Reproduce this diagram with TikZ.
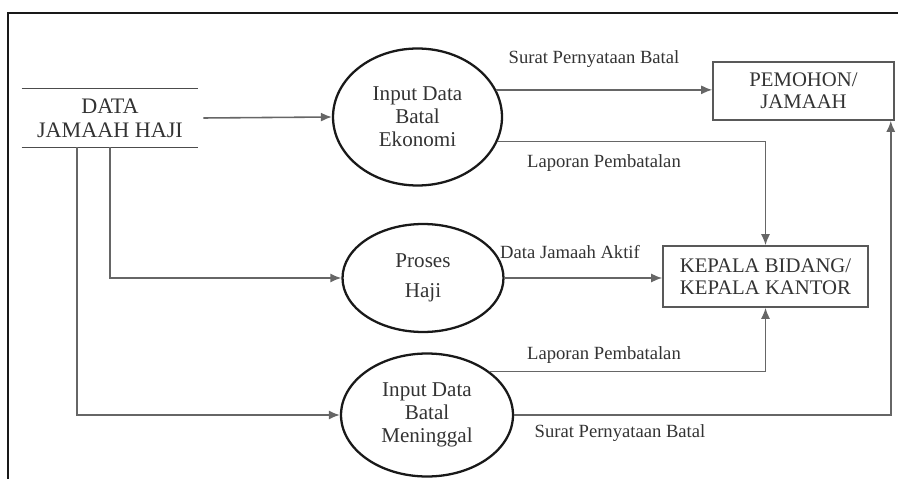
\documentclass[tikz,border=0pt]{standalone}
\usepackage{fontspec}
\setmainfont{Liberation Serif}
\usetikzlibrary{shapes.geometric,arrows.meta}
\tikzset{
  process/.style={ellipse, draw=black!90, line width=1.3pt, minimum width=3.38cm, minimum height=2.74cm, inner sep=0pt, align=center, text=black!80, font=\fontsize{12}{13}\selectfont},
  entity/.style={rectangle, draw=black!65, line width=0.9pt, inner sep=0pt, align=center, text=black!80, font=\fontsize{11.8}{12.5}\selectfont},
  store/.style={minimum width=3.52cm, minimum height=1.16cm, inner sep=0pt, align=center, text=black!80, font=\fontsize{12.6}{13.6}\selectfont},
  storeline/.style={draw=black!70, line width=0.9pt},
  flow/.style={draw=black!60, line width=0.9pt, -{Latex[length=2.2mm,width=1.8mm]}},
  flowlabel/.style={inner sep=0pt, text=black!80, font=\fontsize{10.6}{12}\selectfont},
  frame/.style={draw=black!90, line width=1.7pt}
}
\begin{document}
\begin{tikzpicture}[x=0.02cm, y=-0.02cm]
  \useasboundingbox (0,0) rectangle (898,479);
  \draw[frame] (8,479) -- (8,13) -- (898,13);

  \node[store] (store) at (110,118) {DATA\\JAMAAH HAJI};
  \draw[storeline] (store.north west) -- (store.north east);
  \draw[storeline] (store.south west) -- (store.south east);

  \node[process] (eko) at (417.5,117) {Input Data\\Batal\\Ekonomi};
  \node[process, minimum width=3.22cm, minimum height=2.16cm] (haji) at (423,278) {Proses\\[4pt]Haji};
  \node[process, minimum width=3.44cm, minimum height=2.46cm] (mati) at (427,415) {Input Data\\Batal\\Meninggal};

  \node[entity, minimum width=3.62cm, minimum height=1.16cm] (pemohon) at (803.5,91) {PEMOHON/\\JAMAAH};
  \node[entity, minimum width=4.1cm, minimum height=1.22cm] (kepala) at (765.5,276.5) {KEPALA BIDANG/\\KEPALA KANTOR};

  \draw[flow] ([xshift=0.1cm]store.east) -- (eko.west);
  \draw[flow] (store.south) |- (haji.west);
  \draw[flow] ([xshift=-0.66cm]store.south) |- (mati.west);
  \draw[flow] (eko.19) -- (eko.19 -| pemohon.west);
  \draw[flow] (eko.-17) -| (kepala.north);
  \draw[flow] (haji.east) -- (haji.east -| kepala.west);
  \draw[flow] (mati.35) -| (kepala.south);
  \draw[flow] (mati.east) -| ([xshift=-0.08cm]pemohon.south east);

  \node[flowlabel] (lsurat1) at (594,59) {Surat Pernyataan Batal};
  \node[flowlabel] (llapor1) at (604,163) {Laporan Pembatalan};
  \node[flowlabel] (laktif) at (570,252) {Data Jamaah Aktif};
  \node[flowlabel] (llapor2) at (604,355) {Laporan Pembatalan};
  \node[flowlabel] (lsurat2) at (620,433) {Surat Pernyataan Batal};
\end{tikzpicture}
\end{document}
